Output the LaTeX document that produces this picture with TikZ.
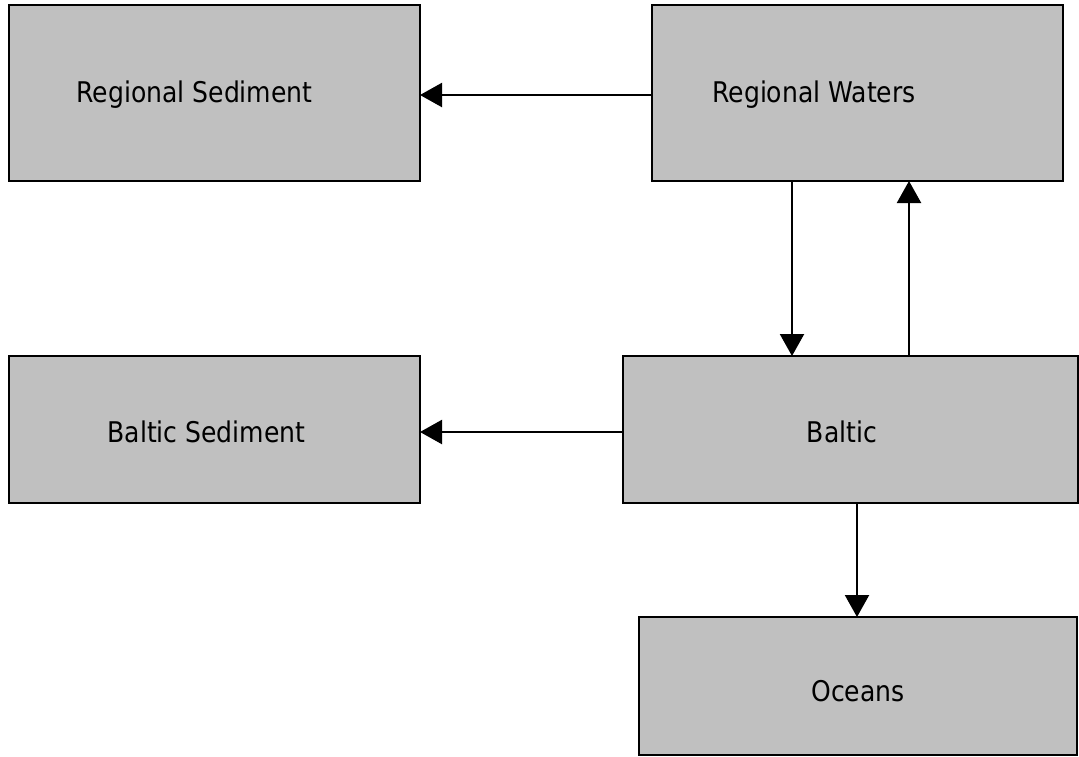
\documentclass[tikz,border=0pt]{standalone}
\usepackage{fontspec}
\setmainfont{DejaVu Sans}[FakeStretch=0.88]
\usetikzlibrary{arrows.meta}
\definecolor{boxgray}{RGB}{192,192,192}
\tikzset{
  block/.style={draw=black, line width=2pt, fill=boxgray, inner sep=0pt, outer sep=0pt},
  lbl/.style={anchor=base, inner sep=0pt, font=\fontsize{28.5}{32}\selectfont},
  flow/.style={line width=2.2pt, -{Triangle[length=22pt,width=24pt]}}
}
\begin{document}
\begin{tikzpicture}[x=1pt, y=-1pt]
  \useasboundingbox (0,0) rectangle (1079,756);
  % boxes
  \node[block, minimum width=411pt, minimum height=176pt] (rs) at (214.5,93) {};
  \node[block, minimum width=411pt, minimum height=176pt] (rw) at (857.5,93) {};
  \node[block, minimum width=411pt, minimum height=147pt] (bs) at (214.5,429.5) {};
  \node[block, minimum width=455pt, minimum height=147pt] (b)  at (850.5,429.5) {};
  \node[block, minimum width=438pt, minimum height=138pt] (oc) at (858,686) {};
  % labels
  \node[lbl] (trs) at (194.5,102) {Regional Sediment};
  \node[lbl] (trw) at (814,102) {Regional Waters};
  \node[lbl] (tbs) at (206.5,442) {Baltic Sediment};
  \node[lbl] (tb)  at (842,442) {Baltic};
  \node[lbl] (toc) at (858,701) {Oceans};
  % guide coordinates for the connectors
  \coordinate (h1) at (0,95);
  \coordinate (h2) at (0,432);
  \coordinate (d1) at (792,0);
  \coordinate (u1) at (909,0);
  \coordinate (o1) at (857,0);
  % connectors
  \draw[flow] (rw.west |- h1) -- (rs.east |- h1);
  \draw[flow] (b.west |- h2) -- (bs.east |- h2);
  \draw[flow] (rw.south -| d1) -- (b.north -| d1);
  \draw[flow] (b.north -| u1) -- (rw.south -| u1);
  \draw[flow] (b.south -| o1) -- (oc.north -| o1);
\end{tikzpicture}
\end{document}
